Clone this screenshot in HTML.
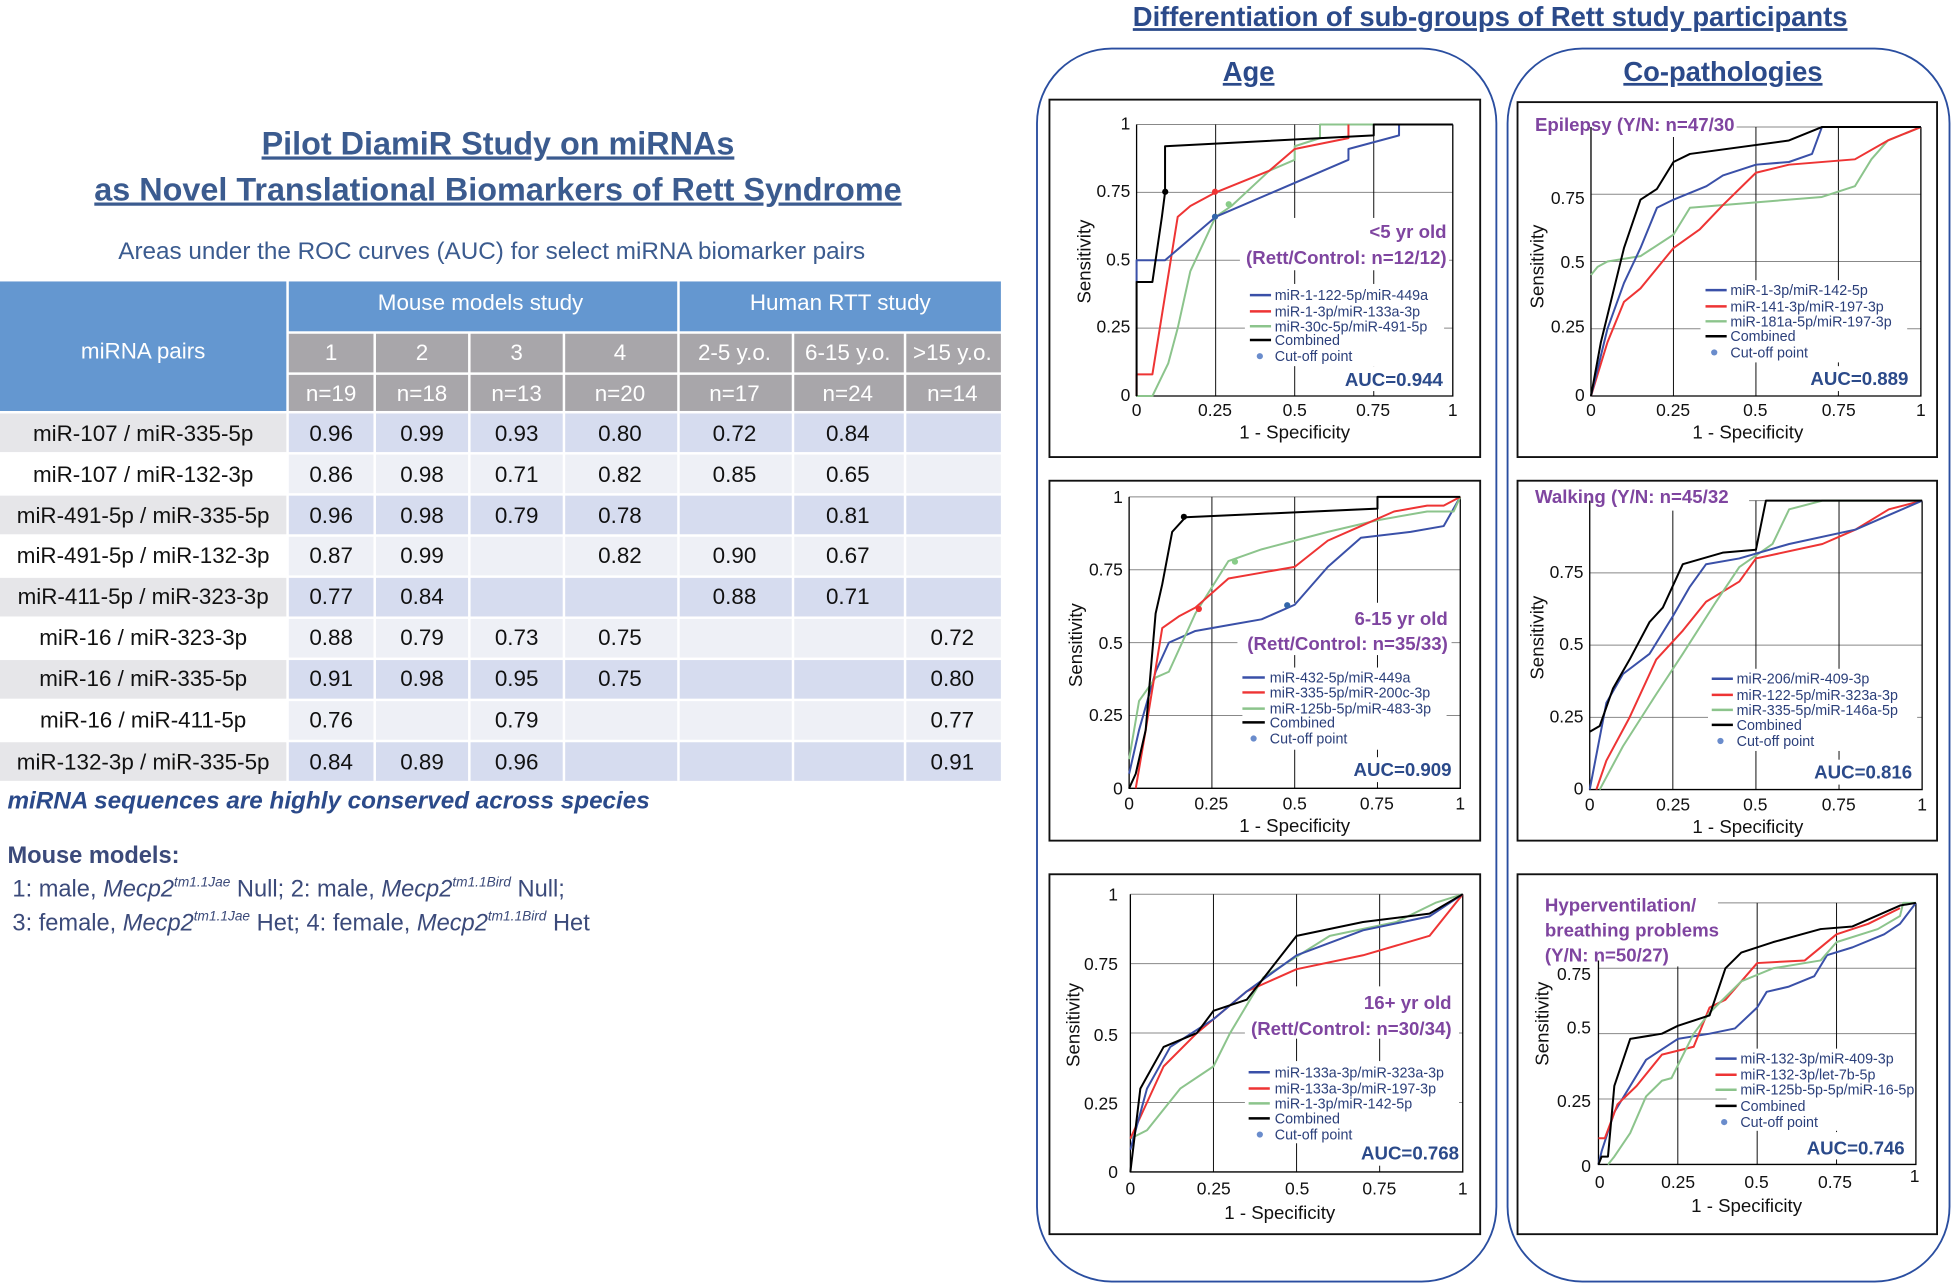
<!DOCTYPE html>
<html><head><meta charset="utf-8"><style>
html,body{margin:0;padding:0;background:#fff}
svg{display:block}
text{font-family:"Liberation Sans",sans-serif}
.pl{fill:none;stroke-width:2;vector-effect:non-scaling-stroke;stroke-linejoin:round}
.gv{stroke:#111;stroke-width:1;vector-effect:non-scaling-stroke}
.gh{stroke:#888;stroke-width:1;vector-effect:non-scaling-stroke}
.ax{stroke:#000;stroke-width:1.3;vector-effect:non-scaling-stroke;fill:none}
.tk{font-size:14px;fill:#111}
.lg{font-size:11.5px;fill:#2b3f7a}
.sub{font-size:15px;fill:#7f45a0;font-weight:bold}
.auc{font-size:15px;fill:#2b4a8a;font-weight:bold}
.xl{font-size:15px;fill:#111}
.b{stroke:#3a50a8}.r{stroke:#ee3434}.g{stroke:#8cc48c}.k{stroke:#000}
.th{font-size:18px;fill:#fff}
.td{font-size:18px;fill:#111}
</style></head><body>
<svg width="1952" height="1284" viewBox="0 0 1568 1031" preserveAspectRatio="none">
<!-- Left -->
<text x="400" y="124" text-anchor="middle" font-size="26" font-weight="bold" fill="#3b5b8f" text-decoration="underline">Pilot DiamiR Study on miRNAs</text>
<text x="400" y="161" text-anchor="middle" font-size="26" font-weight="bold" fill="#3b5b8f" text-decoration="underline">as Novel Translational Biomarkers of Rett Syndrome</text>
<text x="395" y="208" text-anchor="middle" font-size="19.5" fill="#3b5b8f">Areas under the ROC curves (AUC) for select miRNA biomarker pairs</text>
<rect x="0" y="226" width="230" height="104" fill="#6497d0"/>
<rect x="232" y="226" width="312" height="40" fill="#6497d0"/>
<rect x="546" y="226" width="258" height="40" fill="#6497d0"/>
<g fill="#a8a6aa">
<rect x="232" y="268" width="68" height="31"/><rect x="302" y="268" width="74" height="31"/><rect x="378" y="268" width="74" height="31"/><rect x="454" y="268" width="90" height="31"/><rect x="546" y="268" width="90" height="31"/><rect x="638" y="268" width="88" height="31"/><rect x="728" y="268" width="76" height="31"/>
<rect x="232" y="301" width="68" height="29"/><rect x="302" y="301" width="74" height="29"/><rect x="378" y="301" width="74" height="29"/><rect x="454" y="301" width="90" height="29"/><rect x="546" y="301" width="90" height="29"/><rect x="638" y="301" width="88" height="29"/><rect x="728" y="301" width="76" height="29"/>
</g>
<text class="th" x="115" y="288" text-anchor="middle">miRNA pairs</text>
<text class="th" x="386" y="249" text-anchor="middle">Mouse models study</text>
<text class="th" x="675" y="249" text-anchor="middle">Human RTT study</text>
<g text-anchor="middle">
<text class="th" x="266" y="289">1</text><text class="th" x="339" y="289">2</text><text class="th" x="415" y="289">3</text><text class="th" x="498" y="289">4</text><text class="th" x="590" y="289">2-5 y.o.</text><text class="th" x="681" y="289">6-15 y.o.</text><text class="th" x="765" y="289">&gt;15 y.o.</text>
<text class="th" x="266" y="322">n=19</text><text class="th" x="339" y="322">n=18</text><text class="th" x="415" y="322">n=13</text><text class="th" x="498" y="322">n=20</text><text class="th" x="590" y="322">n=17</text><text class="th" x="681" y="322">n=24</text><text class="th" x="765" y="322">n=14</text>
</g>
<g>
<rect x="0" y="332" width="230" height="31" fill="#e6e6e9"/><rect x="232" y="332" width="572" height="31" fill="#d6dcef"/>
<rect x="232" y="365" width="572" height="31" fill="#eef0f6"/>
<rect x="0" y="398" width="230" height="31" fill="#e6e6e9"/><rect x="232" y="398" width="572" height="31" fill="#d6dcef"/>
<rect x="232" y="431" width="572" height="31" fill="#eef0f6"/>
<rect x="0" y="464" width="230" height="31" fill="#e6e6e9"/><rect x="232" y="464" width="572" height="31" fill="#d6dcef"/>
<rect x="232" y="497" width="572" height="31" fill="#eef0f6"/>
<rect x="0" y="530" width="230" height="31" fill="#e6e6e9"/><rect x="232" y="530" width="572" height="31" fill="#d6dcef"/>
<rect x="232" y="563" width="572" height="31" fill="#eef0f6"/>
<rect x="0" y="596" width="230" height="31" fill="#e6e6e9"/><rect x="232" y="596" width="572" height="31" fill="#d6dcef"/>
</g>
<g stroke="#fff" stroke-width="2">
<line x1="301" y1="332" x2="301" y2="627"/><line x1="377" y1="332" x2="377" y2="627"/><line x1="453" y1="332" x2="453" y2="627"/><line x1="545" y1="332" x2="545" y2="627"/><line x1="637" y1="332" x2="637" y2="627"/><line x1="727" y1="332" x2="727" y2="627"/>
</g>
<g text-anchor="middle">
<text class="td" x="115" y="354">miR-107 / miR-335-5p</text><text class="td" x="266" y="354">0.96</text><text class="td" x="339" y="354">0.99</text><text class="td" x="415" y="354">0.93</text><text class="td" x="498" y="354">0.80</text><text class="td" x="590" y="354">0.72</text><text class="td" x="681" y="354">0.84</text>
<text class="td" x="115" y="387">miR-107 / miR-132-3p</text><text class="td" x="266" y="387">0.86</text><text class="td" x="339" y="387">0.98</text><text class="td" x="415" y="387">0.71</text><text class="td" x="498" y="387">0.82</text><text class="td" x="590" y="387">0.85</text><text class="td" x="681" y="387">0.65</text>
<text class="td" x="115" y="420">miR-491-5p / miR-335-5p</text><text class="td" x="266" y="420">0.96</text><text class="td" x="339" y="420">0.98</text><text class="td" x="415" y="420">0.79</text><text class="td" x="498" y="420">0.78</text><text class="td" x="681" y="420">0.81</text>
<text class="td" x="115" y="452">miR-491-5p / miR-132-3p</text><text class="td" x="266" y="452">0.87</text><text class="td" x="339" y="452">0.99</text><text class="td" x="498" y="452">0.82</text><text class="td" x="590" y="452">0.90</text><text class="td" x="681" y="452">0.67</text>
<text class="td" x="115" y="485">miR-411-5p / miR-323-3p</text><text class="td" x="266" y="485">0.77</text><text class="td" x="339" y="485">0.84</text><text class="td" x="590" y="485">0.88</text><text class="td" x="681" y="485">0.71</text>
<text class="td" x="115" y="518">miR-16 / miR-323-3p</text><text class="td" x="266" y="518">0.88</text><text class="td" x="339" y="518">0.79</text><text class="td" x="415" y="518">0.73</text><text class="td" x="498" y="518">0.75</text><text class="td" x="765" y="518">0.72</text>
<text class="td" x="115" y="551">miR-16 / miR-335-5p</text><text class="td" x="266" y="551">0.91</text><text class="td" x="339" y="551">0.98</text><text class="td" x="415" y="551">0.95</text><text class="td" x="498" y="551">0.75</text><text class="td" x="765" y="551">0.80</text>
<text class="td" x="115" y="584">miR-16 / miR-411-5p</text><text class="td" x="266" y="584">0.76</text><text class="td" x="415" y="584">0.79</text><text class="td" x="765" y="584">0.77</text>
<text class="td" x="115" y="618">miR-132-3p / miR-335-5p</text><text class="td" x="266" y="618">0.84</text><text class="td" x="339" y="618">0.89</text><text class="td" x="415" y="618">0.96</text><text class="td" x="765" y="618">0.91</text>
</g>
<text x="6" y="649" font-size="19.5" font-weight="bold" font-style="italic" fill="#2b4a8a">miRNA sequences are highly conserved across species</text>
<g fill="#3b4a7a">
<text x="6" y="693" font-size="19" font-weight="bold" font-family="Liberation Serif">Mouse models:</text>
<text x="10" y="720" font-size="19" font-family="Liberation Serif">1: male, <tspan font-style="italic">Mecp2</tspan><tspan font-style="italic" font-size="11" dy="-8">tm1.1Jae</tspan><tspan dy="8"> Null; 2: male, </tspan><tspan font-style="italic">Mecp2</tspan><tspan font-style="italic" font-size="11" dy="-8">tm1.1Bird</tspan><tspan dy="8"> Null;</tspan></text>
<text x="10" y="747" font-size="19" font-family="Liberation Serif">3: female, <tspan font-style="italic">Mecp2</tspan><tspan font-style="italic" font-size="11" dy="-8">tm1.1Jae</tspan><tspan dy="8"> Het; 4: female, </tspan><tspan font-style="italic">Mecp2</tspan><tspan font-style="italic" font-size="11" dy="-8">tm1.1Bird</tspan><tspan dy="8"> Het</tspan></text>
</g>
<!-- Right side -->
<text x="1197" y="21" text-anchor="middle" font-size="22" font-weight="bold" fill="#2b4a8a" text-decoration="underline">Differentiation of sub-groups of Rett study participants</text>
<rect x="833" y="39" width="369" height="990" rx="60" ry="60" fill="none" stroke="#2a4ea0" stroke-width="1.5"/>
<rect x="1211" y="39" width="355" height="990" rx="60" ry="60" fill="none" stroke="#2a4ea0" stroke-width="1.5"/>
<text x="1003" y="65" text-anchor="middle" font-size="22" font-weight="bold" fill="#2b4a8a" text-decoration="underline">Age</text>
<text x="1384" y="65" text-anchor="middle" font-size="22" font-weight="bold" fill="#2b4a8a" text-decoration="underline">Co-pathologies</text>
<g fill="none" stroke="#111" stroke-width="1.5">
<rect x="843" y="80" width="346" height="287"/><rect x="843" y="386" width="346" height="289"/><rect x="843" y="702" width="346" height="289"/>
<rect x="1219" y="82" width="337" height="285"/><rect x="1219" y="386" width="337" height="289"/><rect x="1219" y="702" width="337" height="289"/>
</g>

<!-- P1 -->
<g transform="translate(913,318) scale(254,-218)">
<line class="gh" x1="0" y1="1" x2="1" y2="1"/><line class="gh" x1="0" y1="0.75" x2="1" y2="0.75"/><line class="gh" x1="0" y1="0.5" x2="1" y2="0.5"/><line class="gh" x1="0" y1="0.25" x2="1" y2="0.25"/>
<line class="gv" x1="0.25" y1="0" x2="0.25" y2="1"/><line class="gv" x1="0.5" y1="0" x2="0.5" y2="1"/><line class="gv" x1="0.75" y1="0" x2="0.75" y2="1"/>
</g>
<rect x="996" y="175" width="168" height="42" fill="#fff"/><rect x="1000" y="228" width="160" height="66" fill="#fff"/><rect x="1078" y="294" width="86" height="20" fill="#fff"/>
<g transform="translate(913,318) scale(254,-218)">
<polyline class="ax" points="0,1 0,0 1,0 1,1"/>
<polyline class="pl g" points="0,0 0.05,0 0.1,0.12 0.13,0.25 0.17,0.46 0.25,0.66 0.3,0.7 0.42,0.83 0.5,0.87 0.5,0.92 0.58,0.95 0.58,1 0.75,1"/>
<polyline class="pl r" points="0,0 0,0.08 0.05,0.08 0.13,0.66 0.17,0.7 0.25,0.75 0.42,0.83 0.5,0.91 0.67,0.95 0.67,1"/>
<polyline class="pl b" points="0,0.42 0,0.5 0.09,0.5 0.25,0.66 0.67,0.87 0.67,0.91 0.83,0.96 0.83,1 1,1"/>
<polyline class="pl k" points="0,0 0,0.42 0.05,0.42 0.08,0.66 0.09,0.75 0.09,0.92 0.75,0.96 0.75,1 1,1"/>
</g>
<circle cx="936" cy="154" r="2.5"/><circle cx="976" cy="154" r="2.5" fill="#e33"/><circle cx="976" cy="174" r="2.5" fill="#36a"/><circle cx="987" cy="164" r="2.5" fill="#8c8"/>
<g class="tk" text-anchor="end"><text x="908" y="104">1</text><text x="908" y="158">0.75</text><text x="908" y="213">0.5</text><text x="908" y="267">0.25</text><text x="908" y="322">0</text></g>
<g class="tk" text-anchor="middle"><text x="913" y="334">0</text><text x="976" y="334">0.25</text><text x="1040" y="334">0.5</text><text x="1103" y="334">0.75</text><text x="1167" y="334">1</text></g>
<text class="xl" x="1040" y="352" text-anchor="middle">1 - Specificity</text>
<text class="xl" transform="translate(876,210) rotate(-90)" text-anchor="middle">Sensitivity</text>
<text class="sub" x="1162" y="191" text-anchor="end">&lt;5 yr old</text>
<text class="sub" x="1162" y="212" text-anchor="end">(Rett/Control: n=12/12)</text>
<line class="b" x1="1004" y1="237" x2="1021" y2="237" stroke-width="2"/><text class="lg" x="1024" y="241">miR-1-122-5p/miR-449a</text>
<line class="r" x1="1004" y1="250" x2="1021" y2="250" stroke-width="2"/><text class="lg" x="1024" y="254">miR-1-3p/miR-133a-3p</text>
<line class="g" x1="1004" y1="262" x2="1021" y2="262" stroke-width="2"/><text class="lg" x="1024" y="266">miR-30c-5p/miR-491-5p</text>
<line class="k" x1="1004" y1="273" x2="1021" y2="273" stroke-width="2"/><text class="lg" x="1024" y="277">Combined</text>
<circle cx="1012" cy="286" r="2.5" fill="#6a8ccc"/><text class="lg" x="1024" y="290">Cut-off point</text>
<text class="auc" x="1159" y="310" text-anchor="end">AUC=0.944</text>

<!-- P2 -->
<g transform="translate(907,633) scale(266,-234)">
<line class="gh" x1="0" y1="1" x2="1" y2="1"/><line class="gh" x1="0" y1="0.75" x2="1" y2="0.75"/><line class="gh" x1="0" y1="0.5" x2="1" y2="0.5"/><line class="gh" x1="0" y1="0.25" x2="1" y2="0.25"/>
<line class="gv" x1="0.25" y1="0" x2="0.25" y2="1"/><line class="gv" x1="0.5" y1="0" x2="0.5" y2="1"/><line class="gv" x1="0.75" y1="0" x2="0.75" y2="1"/>
</g>
<rect x="994" y="484" width="172" height="42" fill="#fff"/><rect x="998" y="536" width="164" height="66" fill="#fff"/><rect x="1082" y="608" width="86" height="20" fill="#fff"/>
<g transform="translate(907,633) scale(266,-234)">
<polyline class="ax" points="0,1 0,0 1,0 1,1"/>
<polyline class="pl b" points="0,0.05 0.03,0.2 0.08,0.4 0.12,0.5 0.2,0.54 0.3,0.56 0.4,0.58 0.5,0.63 0.6,0.76 0.7,0.86 0.85,0.88 0.95,0.9 1,1"/>
<polyline class="pl g" points="0,0.1 0.03,0.3 0.08,0.38 0.12,0.4 0.2,0.6 0.3,0.78 0.4,0.82 0.5,0.85 0.6,0.88 0.75,0.92 0.9,0.95 0.98,0.95 1,1"/>
<polyline class="pl r" points="0.02,0 0.05,0.2 0.1,0.55 0.15,0.59 0.2,0.62 0.25,0.67 0.3,0.72 0.4,0.74 0.5,0.76 0.6,0.85 0.7,0.9 0.8,0.95 0.9,0.97 0.95,0.97 1,1"/>
<polyline class="pl k" points="0,0 0.02,0.05 0.05,0.2 0.08,0.6 0.1,0.7 0.13,0.88 0.17,0.93 0.75,0.96 0.75,1 1,1"/>
</g>
<circle cx="951" cy="415" r="2.5"/><circle cx="963" cy="489" r="2.5" fill="#e33"/><circle cx="1034" cy="486" r="2.5" fill="#36a"/><circle cx="992" cy="451" r="2.5" fill="#8c8"/>
<g class="tk" text-anchor="end"><text x="902" y="404">1</text><text x="902" y="462">0.75</text><text x="902" y="521">0.5</text><text x="902" y="579">0.25</text><text x="902" y="638">0</text></g>
<g class="tk" text-anchor="middle"><text x="907" y="650">0</text><text x="973" y="650">0.25</text><text x="1040" y="650">0.5</text><text x="1106" y="650">0.75</text><text x="1173" y="650">1</text></g>
<text class="xl" x="1040" y="668" text-anchor="middle">1 - Specificity</text>
<text class="xl" transform="translate(869,518) rotate(-90)" text-anchor="middle">Sensitivity</text>
<text class="sub" x="1163" y="502" text-anchor="end">6-15 yr old</text>
<text class="sub" x="1163" y="522" text-anchor="end">(Rett/Control: n=35/33)</text>
<line class="b" x1="998" y1="544" x2="1016" y2="544" stroke-width="2"/><text class="lg" x="1020" y="548">miR-432-5p/miR-449a</text>
<line class="r" x1="998" y1="556" x2="1016" y2="556" stroke-width="2"/><text class="lg" x="1020" y="560">miR-335-5p/miR-200c-3p</text>
<line class="g" x1="998" y1="569" x2="1016" y2="569" stroke-width="2"/><text class="lg" x="1020" y="573">miR-125b-5p/miR-483-3p</text>
<line class="k" x1="998" y1="580" x2="1016" y2="580" stroke-width="2"/><text class="lg" x="1020" y="584">Combined</text>
<circle cx="1007" cy="593" r="2.5" fill="#6a8ccc"/><text class="lg" x="1020" y="597">Cut-off point</text>
<text class="auc" x="1166" y="623" text-anchor="end">AUC=0.909</text>

<!-- P3 -->
<g transform="translate(908,941) scale(267,-223)">
<line class="gh" x1="0" y1="1" x2="1" y2="1"/><line class="gh" x1="0" y1="0.75" x2="1" y2="0.75"/><line class="gh" x1="0" y1="0.5" x2="1" y2="0.5"/><line class="gh" x1="0" y1="0.25" x2="1" y2="0.25"/>
<line class="gv" x1="0.25" y1="0" x2="0.25" y2="1"/><line class="gv" x1="0.5" y1="0" x2="0.5" y2="1"/><line class="gv" x1="0.75" y1="0" x2="0.75" y2="1"/>
</g>
<rect x="1000" y="792" width="172" height="42" fill="#fff"/><rect x="1000" y="852" width="172" height="66" fill="#fff"/><rect x="1086" y="916" width="86" height="20" fill="#fff"/>
<g transform="translate(908,941) scale(267,-223)">
<polyline class="ax" points="0,1 0,0 1,0 1,1"/>
<polyline class="pl g" points="0,0.12 0.05,0.15 0.15,0.3 0.25,0.38 0.3,0.5 0.4,0.7 0.6,0.85 0.8,0.9 0.92,0.97 1,1"/>
<polyline class="pl r" points="0,0.12 0.05,0.25 0.1,0.38 0.2,0.5 0.35,0.65 0.5,0.73 0.7,0.78 0.9,0.85 1,1"/>
<polyline class="pl b" points="0,0.08 0.05,0.3 0.12,0.45 0.25,0.55 0.35,0.65 0.5,0.78 0.7,0.87 0.9,0.92 1,1"/>
<polyline class="pl k" points="0,0 0.03,0.3 0.1,0.45 0.2,0.5 0.25,0.58 0.35,0.62 0.5,0.85 0.7,0.9 0.9,0.93 1,1"/>
</g>
<g class="tk" text-anchor="end"><text x="898" y="723">1</text><text x="898" y="779">0.75</text><text x="898" y="836">0.5</text><text x="898" y="891">0.25</text><text x="898" y="946">0</text></g>
<g class="tk" text-anchor="middle"><text x="908" y="959">0</text><text x="975" y="959">0.25</text><text x="1042" y="959">0.5</text><text x="1108" y="959">0.75</text><text x="1175" y="959">1</text></g>
<text class="xl" x="1028" y="979" text-anchor="middle">1 - Specificity</text>
<text class="xl" transform="translate(867,823) rotate(-90)" text-anchor="middle">Sensitivity</text>
<text class="sub" x="1166" y="810" text-anchor="end">16+ yr old</text>
<text class="sub" x="1166" y="831" text-anchor="end">(Rett/Control: n=30/34)</text>
<line class="b" x1="1003" y1="861" x2="1020" y2="861" stroke-width="2"/><text class="lg" x="1024" y="865">miR-133a-3p/miR-323a-3p</text>
<line class="r" x1="1003" y1="874" x2="1020" y2="874" stroke-width="2"/><text class="lg" x="1024" y="878">miR-133a-3p/miR-197-3p</text>
<line class="g" x1="1003" y1="886" x2="1020" y2="886" stroke-width="2"/><text class="lg" x="1024" y="890">miR-1-3p/miR-142-5p</text>
<line class="k" x1="1003" y1="898" x2="1020" y2="898" stroke-width="2"/><text class="lg" x="1024" y="902">Combined</text>
<circle cx="1012" cy="911" r="2.5" fill="#6a8ccc"/><text class="lg" x="1024" y="915">Cut-off point</text>
<text class="auc" x="1172" y="931" text-anchor="end">AUC=0.768</text>

<!-- R1 -->
<g transform="translate(1278,318) scale(265,-216)">
<line class="gh" x1="0" y1="1" x2="1" y2="1"/><line class="gh" x1="0" y1="0.75" x2="1" y2="0.75"/><line class="gh" x1="0" y1="0.5" x2="1" y2="0.5"/><line class="gh" x1="0" y1="0.25" x2="1" y2="0.25"/>
<line class="gv" x1="0.25" y1="0" x2="0.25" y2="1"/><line class="gv" x1="0.5" y1="0" x2="0.5" y2="1"/><line class="gv" x1="0.75" y1="0" x2="0.75" y2="1"/>
</g>
<rect x="1229" y="90" width="166" height="20" fill="#fff"/><rect x="1366" y="225" width="166" height="66" fill="#fff"/><rect x="1450" y="294" width="90" height="20" fill="#fff"/>
<g transform="translate(1278,318) scale(265,-216)">
<polyline class="ax" points="0,1 0,0 1,0 1,1"/>
<polyline class="pl g" points="0,0.45 0.02,0.48 0.05,0.5 0.15,0.52 0.25,0.6 0.3,0.7 0.5,0.72 0.7,0.74 0.8,0.78 0.85,0.88 0.9,0.95 1,1"/>
<polyline class="pl r" points="0,0 0.05,0.2 0.1,0.35 0.15,0.4 0.25,0.55 0.33,0.62 0.4,0.71 0.45,0.77 0.5,0.83 0.6,0.86 0.8,0.88 0.9,0.95 1,1"/>
<polyline class="pl b" points="0,0 0.05,0.25 0.1,0.42 0.15,0.55 0.2,0.7 0.25,0.73 0.35,0.78 0.4,0.82 0.5,0.86 0.6,0.87 0.67,0.9 0.7,1 1,1"/>
<polyline class="pl k" points="0,0 0.03,0.2 0.07,0.4 0.1,0.55 0.15,0.73 0.2,0.77 0.25,0.87 0.3,0.9 0.6,0.95 0.7,1 1,1"/>
</g>
<g class="tk" text-anchor="end"><text x="1273" y="164">0.75</text><text x="1273" y="215">0.5</text><text x="1273" y="267">0.25</text><text x="1273" y="322">0</text></g>
<g class="tk" text-anchor="middle"><text x="1278" y="334">0</text><text x="1344" y="334">0.25</text><text x="1410" y="334">0.5</text><text x="1477" y="334">0.75</text><text x="1543" y="334">1</text></g>
<text class="xl" x="1404" y="352" text-anchor="middle">1 - Specificity</text>
<text class="xl" transform="translate(1240,214) rotate(-90)" text-anchor="middle">Sensitivity</text>
<text class="sub" x="1233" y="105" font-size="14">Epilepsy (Y/N: n=47/30</text>
<line class="b" x1="1370" y1="233" x2="1387" y2="233" stroke-width="2"/><text class="lg" x="1390" y="237">miR-1-3p/miR-142-5p</text>
<line class="r" x1="1370" y1="246" x2="1387" y2="246" stroke-width="2"/><text class="lg" x="1390" y="250">miR-141-3p/miR-197-3p</text>
<line class="g" x1="1370" y1="258" x2="1387" y2="258" stroke-width="2"/><text class="lg" x="1390" y="262">miR-181a-5p/miR-197-3p</text>
<line class="k" x1="1370" y1="270" x2="1387" y2="270" stroke-width="2"/><text class="lg" x="1390" y="274">Combined</text>
<circle cx="1377" cy="283" r="2.5" fill="#6a8ccc"/><text class="lg" x="1390" y="287">Cut-off point</text>
<text class="auc" x="1533" y="309" text-anchor="end">AUC=0.889</text>

<!-- R2 -->
<g transform="translate(1277,634) scale(267,-232)">
<line class="gh" x1="0" y1="1" x2="1" y2="1"/><line class="gh" x1="0" y1="0.75" x2="1" y2="0.75"/><line class="gh" x1="0" y1="0.5" x2="1" y2="0.5"/><line class="gh" x1="0" y1="0.25" x2="1" y2="0.25"/>
<line class="gv" x1="0.25" y1="0" x2="0.25" y2="1"/><line class="gv" x1="0.5" y1="0" x2="0.5" y2="1"/><line class="gv" x1="0.75" y1="0" x2="0.75" y2="1"/>
</g>
<rect x="1229" y="390" width="176" height="20" fill="#fff"/><rect x="1372" y="537" width="168" height="66" fill="#fff"/><rect x="1450" y="610" width="90" height="20" fill="#fff"/>
<g transform="translate(1277,634) scale(267,-232)">
<polyline class="ax" points="0,1 0,0 1,0 1,1"/>
<polyline class="pl r" points="0.02,0 0.05,0.1 0.12,0.25 0.2,0.45 0.28,0.55 0.35,0.65 0.45,0.72 0.5,0.8 0.7,0.85 0.8,0.9 0.9,0.97 1,1"/>
<polyline class="pl g" points="0.03,0 0.1,0.15 0.2,0.33 0.28,0.47 0.38,0.65 0.45,0.77 0.55,0.85 0.6,0.97 0.7,1 1,1"/>
<polyline class="pl b" points="0,0 0.05,0.3 0.1,0.4 0.18,0.47 0.25,0.6 0.3,0.7 0.35,0.78 0.45,0.8 0.6,0.85 0.8,0.9 0.9,0.95 1,1"/>
<polyline class="pl k" points="0,0.2 0.03,0.22 0.07,0.35 0.12,0.45 0.18,0.58 0.22,0.63 0.28,0.78 0.4,0.82 0.5,0.83 0.53,1 1,1"/>
</g>
<g class="tk" text-anchor="end"><text x="1272" y="464">0.75</text><text x="1272" y="522">0.5</text><text x="1272" y="580">0.25</text><text x="1272" y="638">0</text></g>
<g class="tk" text-anchor="middle"><text x="1277" y="651">0</text><text x="1344" y="651">0.25</text><text x="1410" y="651">0.5</text><text x="1477" y="651">0.75</text><text x="1544" y="651">1</text></g>
<text class="xl" x="1404" y="669" text-anchor="middle">1 - Specificity</text>
<text class="xl" transform="translate(1240,512) rotate(-90)" text-anchor="middle">Sensitivity</text>
<text class="sub" x="1233" y="404" font-size="14">Walking (Y/N: n=45/32</text>
<line class="b" x1="1375" y1="545" x2="1392" y2="545" stroke-width="2"/><text class="lg" x="1395" y="549">miR-206/miR-409-3p</text>
<line class="r" x1="1375" y1="558" x2="1392" y2="558" stroke-width="2"/><text class="lg" x="1395" y="562">miR-122-5p/miR-323a-3p</text>
<line class="g" x1="1375" y1="570" x2="1392" y2="570" stroke-width="2"/><text class="lg" x="1395" y="574">miR-335-5p/miR-146a-5p</text>
<line class="k" x1="1375" y1="582" x2="1392" y2="582" stroke-width="2"/><text class="lg" x="1395" y="586">Combined</text>
<circle cx="1382" cy="595" r="2.5" fill="#6a8ccc"/><text class="lg" x="1395" y="599">Cut-off point</text>
<text class="auc" x="1536" y="625" text-anchor="end">AUC=0.816</text>

<!-- R3 -->
<g transform="translate(1284,935) scale(255,-210)">
<line class="gh" x1="0" y1="1" x2="1" y2="1"/><line class="gh" x1="0" y1="0.75" x2="1" y2="0.75"/><line class="gh" x1="0" y1="0.5" x2="1" y2="0.5"/><line class="gh" x1="0" y1="0.25" x2="1" y2="0.25"/>
<line class="gv" x1="0.25" y1="0" x2="0.25" y2="1"/><line class="gv" x1="0.5" y1="0" x2="0.5" y2="1"/><line class="gv" x1="0.75" y1="0" x2="0.75" y2="1"/>
</g>
<rect x="1240" y="714" width="140" height="62" fill="#fff"/><rect x="1387" y="842" width="160" height="66" fill="#fff"/><rect x="1446" y="909" width="90" height="22" fill="#fff"/>
<g transform="translate(1284,935) scale(255,-210)">
<polyline class="ax" points="0,0.78 0,0 1,0 1,1"/>
<polyline class="pl b" points="0,0 0.01,0.05 0.05,0.2 0.15,0.4 0.25,0.48 0.35,0.5 0.43,0.52 0.5,0.6 0.53,0.66 0.6,0.68 0.68,0.72 0.72,0.8 0.8,0.83 0.9,0.88 0.95,0.92 1,1"/>
<polyline class="pl r" points="0,0.1 0.02,0.1 0.06,0.23 0.12,0.3 0.2,0.42 0.3,0.45 0.35,0.6 0.4,0.63 0.5,0.77 0.65,0.78 0.75,0.88 0.85,0.92 0.95,0.98"/>
<polyline class="pl g" points="0.03,0 0.05,0.03 0.1,0.12 0.15,0.26 0.2,0.32 0.23,0.33 0.3,0.5 0.35,0.58 0.45,0.7 0.55,0.75 0.7,0.78 0.75,0.85 0.88,0.9 0.95,0.95 0.96,1 1,1"/>
<polyline class="pl k" points="0,0 0.01,0.03 0.03,0.03 0.05,0.3 0.1,0.48 0.2,0.5 0.25,0.53 0.35,0.57 0.4,0.75 0.45,0.81 0.55,0.85 0.7,0.9 0.8,0.91 0.95,0.99 1,1"/>
</g>
<g class="tk" text-anchor="end"><text x="1278" y="787">0.75</text><text x="1278" y="830">0.5</text><text x="1278" y="889">0.25</text><text x="1278" y="941">0</text></g>
<g class="tk" text-anchor="middle"><text x="1285" y="954">0</text><text x="1348" y="954">0.25</text><text x="1411" y="954">0.5</text><text x="1474" y="954">0.75</text><text x="1538" y="949">1</text></g>
<text class="xl" x="1403" y="973" text-anchor="middle">1 - Specificity</text>
<text class="xl" transform="translate(1244,822) rotate(-90)" text-anchor="middle">Sensitivity</text>
<text class="sub" x="1241" y="732" font-size="14">Hyperventilation/</text>
<text class="sub" x="1241" y="752" font-size="14">breathing problems</text>
<text class="sub" x="1241" y="772" font-size="14">(Y/N: n=50/27)</text>
<line class="b" x1="1378" y1="850" x2="1395" y2="850" stroke-width="2"/><text class="lg" x="1398" y="854">miR-132-3p/miR-409-3p</text>
<line class="r" x1="1378" y1="863" x2="1395" y2="863" stroke-width="2"/><text class="lg" x="1398" y="867">miR-132-3p/let-7b-5p</text>
<line class="g" x1="1378" y1="875" x2="1395" y2="875" stroke-width="2"/><text class="lg" x="1398" y="879">miR-125b-5p-5p/miR-16-5p</text>
<line class="k" x1="1378" y1="888" x2="1395" y2="888" stroke-width="2"/><text class="lg" x="1398" y="892">Combined</text>
<circle cx="1385" cy="901" r="2.5" fill="#6a8ccc"/><text class="lg" x="1398" y="905">Cut-off point</text>
<text class="auc" x="1530" y="927" text-anchor="end">AUC=0.746</text>
</svg>
</body></html>
